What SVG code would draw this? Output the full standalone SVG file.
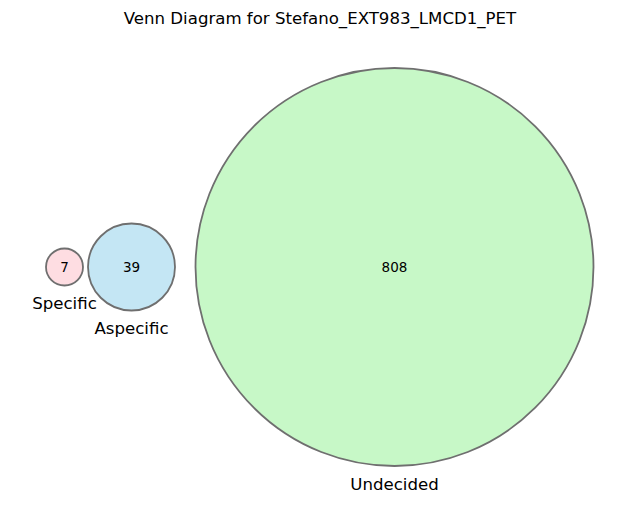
<svg xmlns="http://www.w3.org/2000/svg" width="640" height="513" viewBox="0 0 640 513">
<style>
.c{stroke:#6f6f6f;stroke-width:1.8}
.n{font-family:"DejaVu Sans",sans-serif;font-size:13.5px;text-anchor:middle;fill:#000}
.l{font-family:"DejaVu Sans",sans-serif;font-size:16.6px;text-anchor:middle;fill:#000}
</style>
<rect width="640" height="513" fill="#fff"/>
<text class="l" x="320" y="24">Venn Diagram for Stefano_EXT983_LMCD1_PET</text>
<g id="undecided">
<circle class="c" cx="394.5" cy="267" r="199" fill="#c7f8c7" stroke="#6e7d6e"/>
<text class="n" x="394.5" y="272">808</text>
<text class="l" x="394.5" y="490">Undecided</text>
</g>
<g id="aspecific">
<circle class="c" cx="131.5" cy="267" r="43.5" fill="#c4e6f4"/>
<text class="n" x="131.5" y="272">39</text>
<text class="l" x="131.5" y="334">Aspecific</text>
</g>
<g id="specific">
<circle class="c" cx="64.5" cy="267" r="18.5" fill="#fedde2"/>
<text class="n" x="64.5" y="272">7</text>
<text class="l" x="64.5" y="309">Specific</text>
</g>
<g id="connectors"/>
</svg>
